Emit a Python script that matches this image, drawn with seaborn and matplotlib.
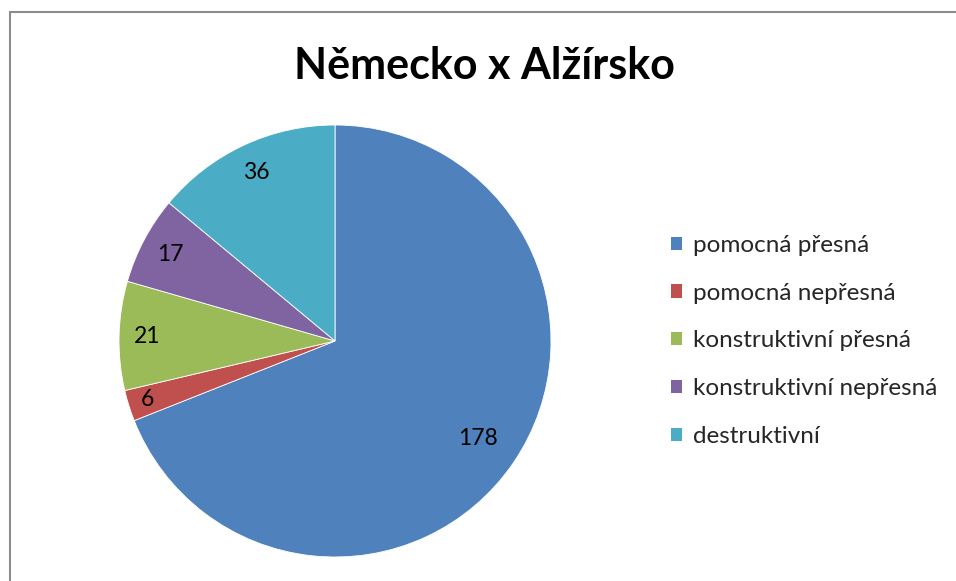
import matplotlib
matplotlib.use("Agg")
import matplotlib.pyplot as plt
from matplotlib.lines import Line2D
from matplotlib.patches import Patch
import numpy as np
import seaborn as sns

# ---- data ----
categories = ["pomocná přesná", "pomocná nepřesná", "konstruktivní přesná",
              "konstruktivní nepřesná", "destruktivní"]
counts = [178, 6, 21, 17, 36]
colors = ["#4F81BD", "#C0504D", "#9BBB59", "#8064A2", "#4BACC6"]
title = "Německo x Alžírsko"

sns.set_theme(style="white")
plt.rcParams["font.family"] = ["Lato", "DejaVu Sans"]

W, H = 956, 581
fig = plt.figure(figsize=(W / 100, H / 100), dpi=100)

# pie axes: center (335, 341), radius 216 px
cx, cy, r = 335, 341, 216
ax = fig.add_axes([(cx - r) / W, (H - cy - r) / H, 2 * r / W, 2 * r / H])
wedges, _ = ax.pie(counts, colors=colors, startangle=90, counterclock=False,
                   radius=1, wedgeprops=dict(linewidth=0.6, edgecolor="white"))
ax.set_xlim(-1, 1)
ax.set_ylim(-1, 1)
ax.set_aspect("equal")
ax.axis("off")

# value labels near the outer edge of each slice
label_r = [0.80, 0.91, 0.87, 0.86, 0.86]
for w, v, lr in zip(wedges, counts, label_r):
    ang = np.deg2rad((w.theta1 + w.theta2) / 2)
    ax.text(lr * np.cos(ang), lr * np.sin(ang), str(v), ha="center", va="center",
            fontsize=16.5, color="black")

fig.text(484 / W, 1 - 79 / H, title, ha="center", va="baseline",
         fontsize=31, fontweight="bold", color="black")

handles = [Patch(facecolor=c, edgecolor="none") for c in colors]
fig.legend(handles, categories, loc="center left",
           bbox_to_anchor=(671 / W, 1 - 341 / H), frameon=False,
           fontsize=17.5, handlelength=0.46, handleheight=0.46,
           handletextpad=0.45, labelspacing=1.1, borderaxespad=0, borderpad=0)

# chart area frame (runs off the right and bottom edge)
fig.add_artist(Line2D([9.5 / W, 9.5 / W], [0, 1 - 12 / H], color="#8c8c8c", lw=1.5))
fig.add_artist(Line2D([9.5 / W, 1], [1 - 12 / H, 1 - 12 / H], color="#8c8c8c", lw=1.5))

fig.savefig("out.png", dpi=100, facecolor="white")
